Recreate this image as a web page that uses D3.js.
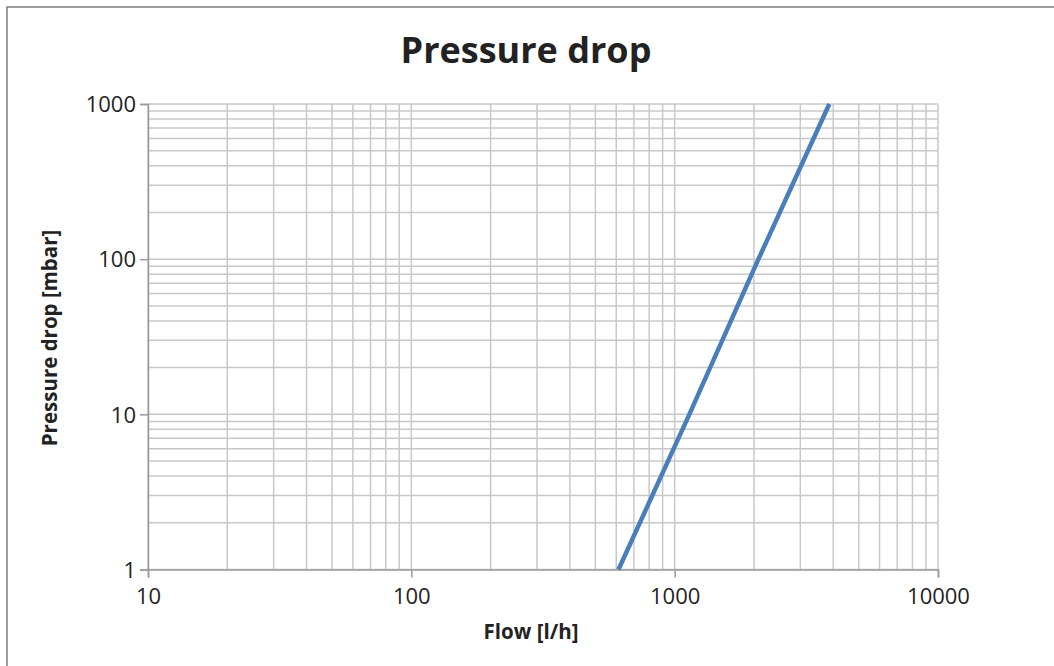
<!DOCTYPE html>
<html><head><meta charset="utf-8">
<script src="https://cdn.jsdelivr.net/npm/d3@7"></script>
<style>body{margin:0;background:#fff}svg{display:block}</style>
</head><body>
<svg id="c" width="1054" height="666"></svg>
<script>
const flow = [612, 1137, 2080, 3866];
const pressure = [1, 10, 100, 1000];
const xTicks = [10, 100, 1000, 10000];
const yTicks = [1, 10, 100, 1000];
const title = "Pressure drop";
const xLabel = "Flow [l/h]";
const yLabel = "Pressure drop [mbar]";

const svg = d3.select("#c");
const font = "'Open Sans', 'Liberation Sans', sans-serif";
const m = {l:148, t:104, r:938, b:569.5};
const x = d3.scaleLog().domain([10, 10000]).range([m.l, m.r]);
const y = d3.scaleLog().domain([1, 1000]).range([m.b, m.t]);

svg.append("rect").attr("x",7).attr("y",7).attr("width",1100).attr("height",700)
  .attr("fill","#fff").attr("stroke","#6b6b6b").attr("stroke-width",1.3);

const xg = [], yg = [];
for (let d = 10; d < 10000; d *= 10) for (let k = 1; k < 10; k++) xg.push(d*k);
xg.push(10000);
for (let d = 1; d < 1000; d *= 10) for (let k = 1; k < 10; k++) yg.push(d*k);
yg.push(1000);
const g = svg.append("g");
g.selectAll(".vx").data(xg).join("line")
  .attr("x1", d=>x(d)).attr("x2", d=>x(d)).attr("y1", m.t).attr("y2", m.b)
  .attr("stroke","#c8c8c8").attr("stroke-width",1.5);
g.selectAll(".hy").data(yg).join("line")
  .attr("y1", d=>y(d)).attr("y2", d=>y(d)).attr("x1", m.l).attr("x2", m.r)
  .attr("stroke","#c8c8c8").attr("stroke-width",1.5);

const xAxis = d3.axisBottom(x).tickValues(xTicks).tickFormat(d3.format("d")).tickSize(8).tickPadding(11);
const yAxis = d3.axisLeft(y).tickValues(yTicks).tickFormat(d3.format("d")).tickSize(8).tickPadding(4);
const gx = svg.append("g").attr("transform",`translate(0,${m.b})`).call(xAxis);
const gy = svg.append("g").attr("transform",`translate(${m.l},0)`).call(yAxis);
[gx, gy].forEach(a => {
  a.select(".domain").attr("stroke","#9a9a9a").attr("stroke-width",1.5);
  a.selectAll(".tick line").attr("stroke","#9a9a9a").attr("stroke-width",1.5);
  a.selectAll("text").attr("font-family",font).attr("font-size",22).attr("fill","#222");
});
gy.selectAll("text").attr("dy","0.35em");

const line = d3.line().x((d,i)=>x(flow[i])).y((d,i)=>y(pressure[i]));
svg.append("path").datum(flow).attr("d", line).attr("fill","none")
  .attr("stroke","#4a7ebb").attr("stroke-width",4.5);

svg.append("text").attr("x",526).attr("y",63).attr("text-anchor","middle")
  .attr("font-family",font).attr("font-weight","bold").attr("font-size",36).attr("fill","#222").text(title);
svg.append("text").attr("x",531).attr("y",639).attr("text-anchor","middle")
  .attr("font-family",font).attr("font-weight","bold").attr("font-size",20.5).attr("fill","#222").text(xLabel);
svg.append("text").attr("transform","translate(57,338) rotate(-90)").attr("text-anchor","middle")
  .attr("font-family",font).attr("font-weight","bold").attr("font-size",20.5).attr("fill","#222").text(yLabel);
</script>
</body></html>
